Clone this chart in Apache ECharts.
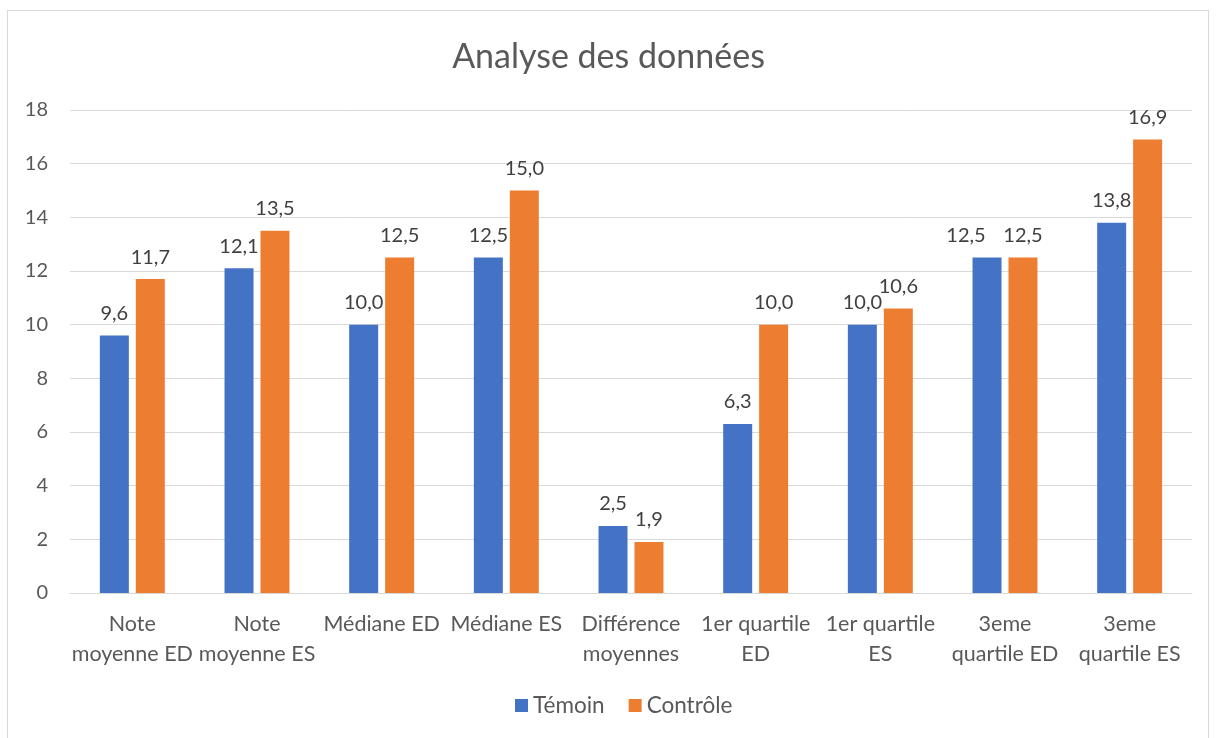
<!DOCTYPE html>
<html>
<head>
<meta charset="utf-8">
<script src="https://cdn.jsdelivr.net/npm/echarts@6/dist/echarts.min.js"></script>
<style>
    html, body { margin: 0; padding: 0; background: #fff; }
    #frame { position: absolute; left: 7px; top: 10px; width: 1202px; height: 740px; border: 1px solid #d9d9d9; box-sizing: border-box; }
    #chart { position: absolute; left: 0; top: 0; width: 1217px; height: 738px; }
</style>
</head>
<body>
<div id="frame"></div>
<div id="chart"></div>
<script>
    // categories (libellés de l'axe x)
    const categories = [
        'Note\nmoyenne ED', 'Note\nmoyenne ES', 'Médiane ED', 'Médiane ES',
        'Différence\nmoyennes', '1er quartile\nED', '1er quartile\nES',
        '3eme\nquartile ED', '3eme\nquartile ES'
    ];
    const temoin = [9.6, 12.1, 10.0, 12.5, 2.5, 6.3, 10.0, 12.5, 13.8];
    const controle = [11.7, 13.5, 12.5, 15.0, 1.9, 10.0, 10.6, 12.5, 16.9];
    const yTicks = [0, 2, 4, 6, 8, 10, 12, 14, 16, 18];

    const font = 'Lato, "Open Sans", sans-serif';
    const chart = echarts.init(document.getElementById('chart'));

    const fmt = p => p.value.toFixed(1).replace('.', ',');

    // étiquette du Témoin décalée à gauche quand elle chevauche (comme Excel)
    const temoinData = temoin.map((v, i) =>
        i === 7 ? {value: v, label: {offset: [-21, 0]}} : v);

    chart.setOption({
        backgroundColor: 'transparent',
        title: {
            text: 'Analyse des données',
            left: 'center',
            top: 35,
            textStyle: { fontFamily: font, fontSize: 34, fontWeight: 'normal', color: '#595959' }
        },
        legend: {
            bottom: 16,
            left: 510,
            itemWidth: 13,
            itemHeight: 13,
            itemGap: 24,
            icon: 'rect',
            textStyle: { fontFamily: font, fontSize: 22.5, color: '#595959' },
            data: ['Témoin', 'Contrôle']
        },
        grid: { left: 70, right: 25, top: 110, bottom: 145, containLabel: false },
        xAxis: {
            type: 'category',
            data: categories,
            axisTick: { show: false },
            axisLine: { lineStyle: { color: '#d9d9d9', width: 1 } },
            axisLabel: {
                fontFamily: font, fontSize: 21.5, color: '#595959',
                lineHeight: 30, margin: 16, interval: 0
            }
        },
        yAxis: {
            type: 'value',
            min: yTicks[0],
            max: yTicks[yTicks.length - 1],
            interval: 2,
            axisLine: { show: false },
            axisTick: { show: false },
            splitLine: { lineStyle: { color: '#d9d9d9', width: 1 } },
            axisLabel: { fontFamily: font, fontSize: 20, color: '#595959', margin: 22 }
        },
        series: [
            {
                name: 'Témoin',
                type: 'bar',
                data: temoinData,
                barWidth: 29,
                barGap: '24%',
                itemStyle: { color: '#4472c4' },
                label: {
                    show: true, position: 'top', distance: 12, formatter: fmt,
                    fontFamily: font, fontSize: 20, color: '#404040'
                }
            },
            {
                name: 'Contrôle',
                type: 'bar',
                data: controle,
                barWidth: 29,
                itemStyle: { color: '#ed7d31' },
                label: {
                    show: true, position: 'top', distance: 12, formatter: fmt,
                    fontFamily: font, fontSize: 20, color: '#404040'
                }
            }
        ]
    });
</script>
</body>
</html>
